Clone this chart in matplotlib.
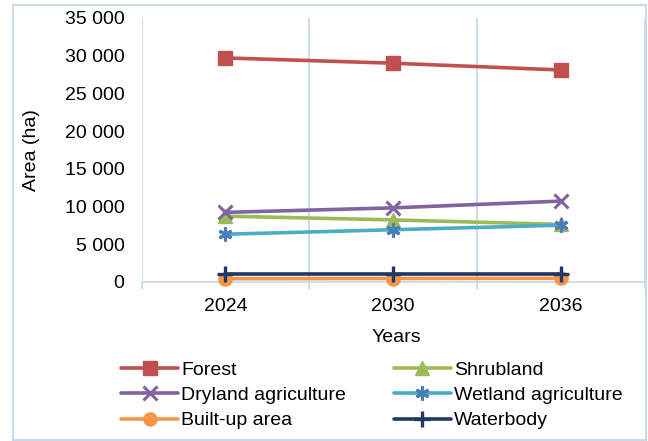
import matplotlib
matplotlib.use("Agg")
import matplotlib.pyplot as plt
from matplotlib.patches import Rectangle
from matplotlib.ticker import FuncFormatter, FixedLocator

plt.rcParams['font.family'] = ['Liberation Sans', 'DejaVu Sans']

years = ["2024", "2030", "2036"]
forest = [29700, 29000, 28100]
shrubland = [8700, 8200, 7600]
dryland = [9200, 9800, 10700]
wetland = [6300, 6900, 7500]
builtup = [400, 420, 450]
waterbody = [1050, 1050, 1050]

W, H = 648, 441
fig = plt.figure(figsize=(W / 100, H / 100), dpi=100)

def px(x0, y0, x1, y1):
    return [x0 / W, 1 - y1 / H, (x1 - x0) / W, (y1 - y0) / H]

ax = fig.add_axes(px(141.5, 18, 645, 281.7))

grid_c = "#C8D9EC"
fs = 14.0
x = range(len(years))

series = [
    ("Forest", forest, "#C0504D", dict(marker="s", ms=9.5, mfc="#C0504D", mec="#C0504D")),
    ("Shrubland", shrubland, "#9BBB59", dict(marker="^", ms=10, mfc="#9BBB59", mec="#9BBB59")),
    ("Dryland agriculture", dryland, "#8064A2", dict(marker="x", ms=10, mew=2.2, mec="#8064A2")),
    ("Wetland agriculture", wetland, "#4BACC6", dict(marker=(6, 2, 0), ms=10, mew=2.2, mec="#4A7EBB")),
    ("Built-up area", builtup, "#F79646", dict(marker="o", ms=9.5, mfc="#F79646", mec="#F79646")),
    ("Waterbody", waterbody, "#1F3864", dict(marker="+", ms=12, mew=2.4, mec="#1F3864")),
]

handles = {}
for i, (name, vals, col, mk) in enumerate(series):
    (ln,) = ax.plot(x, vals, color=col, lw=2.6, label=name, zorder=3 + i,
                    solid_capstyle="round", clip_on=False, **mk)
    handles[name] = ln

ax.set_xlim(-0.5, 2.5)
ax.set_ylim(0, 35000)
ax.set_xticks(list(x))
ax.set_xticklabels(years, fontsize=fs)
ax.xaxis.set_minor_locator(FixedLocator([-0.5, 0.5, 1.5, 2.5]))
ax.tick_params(axis="x", which="major", length=0, pad=12)
ax.tick_params(axis="x", which="minor", length=5, width=1.3, color=grid_c, direction="out")
ax.grid(axis="x", which="minor", color=grid_c, lw=1.3, zorder=0)
ax.set_axisbelow(True)

ax.set_yticks(range(0, 35001, 5000))
ax.yaxis.set_major_formatter(FuncFormatter(lambda v, p: f"{int(v):,}".replace(",", " ")))
ax.tick_params(axis="y", length=0, pad=12.2, labelsize=fs)

for s in ("top", "right", "left"):
    ax.spines[s].set_visible(False)
ax.spines["bottom"].set_color(grid_c)
ax.spines["bottom"].set_linewidth(1.3)
ax.spines["bottom"].set_zorder(1)

ax.set_ylabel("Area (ha)", fontsize=fs)
ax.yaxis.set_label_coords(31 / W, 1 - 150 / H, transform=fig.transFigure)
ax.yaxis.label.set_va("center")
ax.set_xlabel("Years", fontsize=fs)
ax.xaxis.set_label_coords(396 / W, 1 - 338 / H, transform=fig.transFigure)
ax.xaxis.label.set_va("center")

order = ["Forest", "Dryland agriculture", "Built-up area",
         "Shrubland", "Wetland agriculture", "Waterbody"]
leg = fig.legend([handles[n] for n in order], order, ncol=2, frameon=False,
                 loc="upper left", bbox_to_anchor=(121 / W, 1 - 361 / H),
                 fontsize=fs, handlelength=2.95, handletextpad=0.15,
                 columnspacing=2.45, labelspacing=0.4, borderpad=0,
                 borderaxespad=0)

fig.patches.append(Rectangle((13 / W, 1 - 440 / H), (646 - 13) / W, (440 - 5) / H,
                             transform=fig.transFigure, fill=False,
                             edgecolor="#C6D8EE", lw=1.4, zorder=0))

fig.savefig("out.png", dpi=100)
